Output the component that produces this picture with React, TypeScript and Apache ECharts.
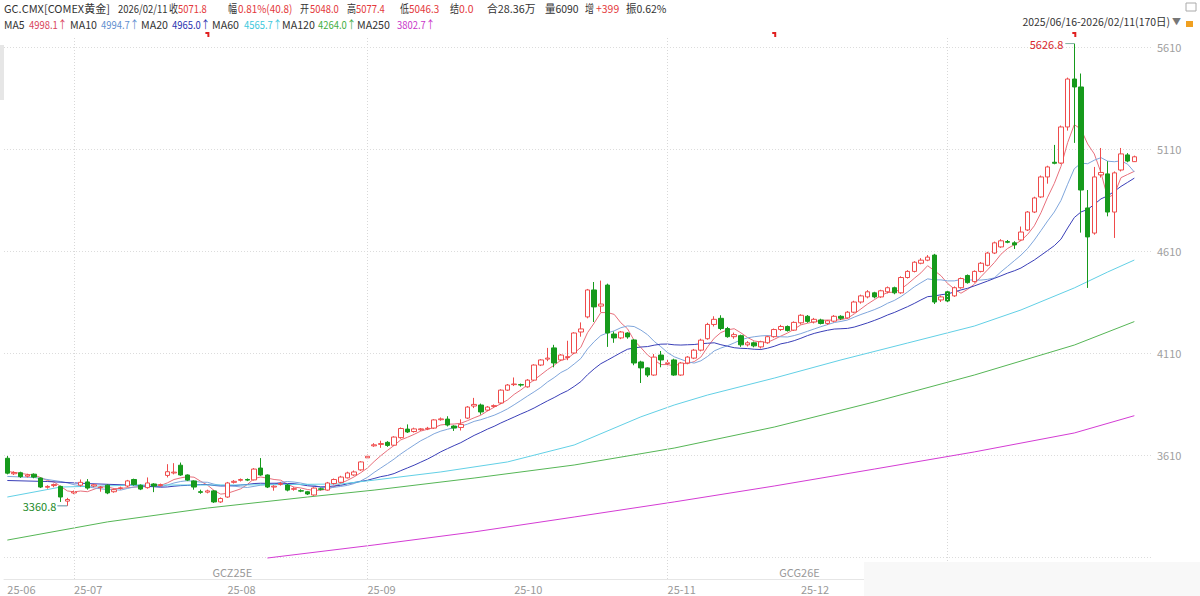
import React, { useEffect, useRef } from 'react';
import * as echarts from 'echarts';

// ---------- categories ----------
const FIRST_DAY = '2025-06-16';
const LAST_DAY = '2026-02-11';
const NO_TRADE = ['2025-06-19', '2025-12-25', '2026-01-01'];
const PAD_SLOTS = ['pad-1', 'pad-2'];
const MONTH_LABELS = ['25-06', '25-07', '25-08', '25-09', '25-10', '25-11', '25-12'];
const GRID_MONTHS = ['2025/07', '2025/09', '2025/11', '2026/01'];
const ROLL_DATES = ['2025/07/29', '2025/11/25', '2026/01/29'];
const ROLL_NAMES = ['GCZ25E', 'GCG26E', ''];

// ---------- candles: [open, close, low, high] ----------
const ohlc: number[][] = [
  [3594, 3521, 3515, 3605], [3518, 3524, 3512, 3530], [3523, 3504, 3498, 3528], [3506, 3512, 3500, 3518], [3516, 3502, 3496, 3520],
  [3497, 3453, 3448, 3500], [3452, 3456, 3445, 3462], [3460, 3465, 3452, 3470], [3456, 3404, 3380, 3460], [3384, 3392, 3360.8, 3400],
  [3424, 3430, 3418, 3436], [3462, 3476, 3455, 3490], [3478, 3448, 3440, 3492], [3458, 3464, 3452, 3468], [3450, 3453, 3430, 3458],
  [3462, 3424, 3418, 3466], [3430, 3440, 3425, 3445], [3446, 3449, 3440, 3455], [3458, 3483, 3452, 3488], [3490, 3465, 3460, 3494],
  [3462, 3443, 3438, 3466], [3450, 3473, 3445, 3500], [3468, 3458, 3428, 3472], [3460, 3465, 3455, 3470], [3510, 3528, 3500, 3565],
  [3522, 3526, 3515, 3570], [3560, 3512, 3508, 3573], [3512, 3487, 3482, 3515], [3483, 3453, 3440, 3486], [3430, 3427, 3420, 3440],
  [3428, 3434, 3422, 3440], [3434, 3380, 3375, 3438], [3380, 3397, 3375, 3402], [3404, 3473, 3400, 3478], [3476, 3481, 3470, 3487],
  [3486, 3490, 3480, 3495], [3490, 3487, 3482, 3495], [3488, 3541, 3485, 3546], [3546, 3512, 3508, 3595], [3512, 3453, 3448, 3515],
  [3453, 3457, 3435, 3462], [3466, 3470, 3460, 3478], [3463, 3438, 3432, 3468], [3442, 3445, 3435, 3452], [3435, 3433, 3428, 3442],
  [3430, 3419, 3414, 3434], [3414, 3448, 3410, 3452], [3444, 3442, 3436, 3450], [3438, 3473, 3435, 3478], [3470, 3490, 3465, 3495],
  [3476, 3502, 3472, 3508], [3498, 3522, 3495, 3528], [3512, 3527, 3508, 3534], [3537, 3576, 3532, 3580], [3596, 3604, 3590, 3612],
  [3655, 3660, 3650, 3668], [3662, 3666, 3645, 3680], [3672, 3657, 3650, 3678], [3658, 3698, 3655, 3702], [3695, 3740, 3690, 3745],
  [3737, 3723, 3718, 3760], [3725, 3738, 3720, 3744], [3734, 3738, 3728, 3742], [3738, 3741, 3732, 3748], [3742, 3782, 3738, 3786],
  [3783, 3787, 3778, 3794], [3786, 3757, 3750, 3800], [3752, 3742, 3728, 3756], [3745, 3760, 3730, 3785], [3791, 3845, 3786, 3850],
  [3850, 3858, 3840, 3890], [3855, 3821, 3808, 3862], [3830, 3845, 3825, 3850], [3848, 3852, 3842, 3858], [3865, 3928, 3860, 3932],
  [3928, 3953, 3924, 3958], [3955, 3958, 3948, 3990], [3955, 3953, 3945, 3960], [3944, 3977, 3940, 3982], [3977, 4051, 3972, 4055],
  [4051, 4076, 4046, 4080], [4080, 4085, 4070, 4135], [4135, 4061, 4040, 4150], [4076, 4100, 4070, 4105], [4088, 4092, 4075, 4170],
  [4110, 4208, 4105, 4212], [4213, 4228, 4190, 4260], [4287, 4419, 4280, 4424], [4419, 4336, 4262, 4458], [4340, 4350, 4310, 4465],
  [4443, 4208, 4140, 4450], [4203, 4184, 4160, 4215], [4184, 4213, 4178, 4218], [4208, 4189, 4180, 4212], [4174, 4061, 4050, 4178],
  [4066, 4037, 3963, 4072], [4037, 4002, 3992, 4040], [4002, 4090, 3998, 4105], [4100, 4076, 4040, 4120], [4058, 4062, 4045, 4080],
  [4076, 4002, 3998, 4082], [4002, 4061, 3998, 4066], [4061, 4090, 4055, 4095], [4085, 4124, 4080, 4130], [4124, 4173, 4118, 4180],
  [4180, 4250, 4175, 4258], [4250, 4275, 4240, 4290], [4280, 4230, 4222, 4295], [4230, 4190, 4185, 4238], [4190, 4200, 4180, 4210],
  [4195, 4150, 4140, 4200], [4150, 4160, 4142, 4168], [4160, 4145, 4138, 4166], [4140, 4165, 4132, 4170], [4160, 4190, 4155, 4195],
  [4190, 4225, 4185, 4230], [4225, 4240, 4218, 4248], [4240, 4220, 4215, 4245], [4222, 4260, 4218, 4265], [4258, 4295, 4250, 4300],
  [4290, 4265, 4258, 4296], [4262, 4275, 4255, 4282], [4272, 4255, 4250, 4278], [4255, 4268, 4248, 4272], [4266, 4290, 4260, 4296],
  [4290, 4280, 4272, 4295], [4282, 4310, 4278, 4316], [4310, 4360, 4305, 4366], [4360, 4390, 4352, 4396], [4385, 4410, 4378, 4418],
  [4405, 4385, 4378, 4410], [4385, 4415, 4380, 4420], [4410, 4430, 4402, 4436], [4430, 4405, 4398, 4435], [4405, 4480, 4400, 4486],
  [4480, 4510, 4475, 4516], [4510, 4555, 4505, 4560], [4550, 4565, 4545, 4575], [4565, 4580, 4560, 4590], [4590, 4360, 4350, 4596],
  [4370, 4385, 4360, 4392], [4410, 4365, 4360, 4415], [4390, 4430, 4385, 4436], [4430, 4475, 4425, 4480], [4490, 4455, 4450, 4495],
  [4460, 4510, 4455, 4515], [4510, 4550, 4505, 4556], [4540, 4600, 4535, 4606], [4600, 4650, 4595, 4656], [4630, 4660, 4625, 4668],
  [4656, 4653, 4648, 4664], [4650, 4640, 4620, 4658], [4664, 4703, 4660, 4730], [4713, 4801, 4708, 4806], [4801, 4870, 4796, 4876],
  [4875, 4973, 4870, 4980], [4973, 5022, 4940, 5028], [5045, 5040, 5035, 5130], [5041, 5218, 5036, 5225], [5218, 5453, 5200, 5460],
  [5453, 5414, 5140, 5626.8], [5414, 4909, 4700, 5480], [4821, 4679, 4429, 4909], [4698, 4973, 4690, 5022], [4983, 4995, 4970, 5115],
  [4988, 4801, 4780, 5050], [4801, 4993, 4674, 5000], [5007, 5086, 5000, 5115], [5081, 5051, 5045, 5090], [5048, 5071.8, 5046.3, 5077.4],
];

// ---------- moving averages ----------
const ma5Head: number[][] = [[0, 3530], [1, 3525], [2, 3520], [3, 3515]];
const ma10Head: number[][] = [[0, 3505], [4, 3500], [8, 3480]];
const ma20Head: number[][] = [[0, 3485], [6, 3480], [12, 3470], [18, 3463]];
const ma60Pts: number[][] = [
  [0, 3404], [8, 3453], [20, 3463], [35, 3463], [50, 3468], [55, 3487], [65, 3527], [75, 3576], [85, 3659], [95, 3797],
  [100, 3855], [105, 3904], [115, 3987], [125, 4076], [135, 4159], [145, 4242], [152, 4321], [160, 4429], [165, 4507], [169, 4565.7],
];
const ma120Pts: number[][] = [
  [0, 3193], [15, 3282], [30, 3350], [45, 3404], [55, 3438], [70, 3497], [85, 3561], [100, 3644], [115, 3747], [130, 3870],
  [145, 4002], [155, 4100], [160, 4149], [169, 4264.0],
];
const ma250Pts: number[][] = [
  [39, 3105], [55, 3169], [70, 3233], [85, 3306], [100, 3380], [115, 3458], [130, 3541], [145, 3625], [160, 3718], [169, 3802.7],
];

const UP = '#ef4b4b';
const DOWN = '#169a1c';
const FONT = '"Noto Sans CJK SC", "Noto Sans", sans-serif';

function tradingDays(): string[] {
  const out: string[] = [];
  const d = new Date(FIRST_DAY + 'T00:00:00Z');
  const end = new Date(LAST_DAY + 'T00:00:00Z');
  while (d <= end) {
    const wd = d.getUTCDay();
    const iso = d.toISOString().slice(0, 10);
    if (wd !== 0 && wd !== 6 && !NO_TRADE.includes(iso)) out.push(iso.replace(/-/g, '/'));
    d.setUTCDate(d.getUTCDate() + 1);
  }
  return out;
}

const days = tradingDays();
const cats = days.concat(PAD_SLOTS);
const closes = ohlc.map((r) => r[1]);

function maSeries(n: number, head: number[][]): any[] {
  const out: any[] = head.map(([i, v]) => [days[i], v]);
  for (let i = n - 1; i < closes.length; i++) {
    let s = 0;
    for (let k = i - n + 1; k <= i; k++) s += closes[k];
    out.push([days[i], +(s / n).toFixed(2)]);
  }
  return out;
}
const pts = (arr: number[][]) => arr.map(([i, v]) => [days[i], v]);

const monthLabelAt: Record<string, string> = {};
const monthFirst: Record<string, string> = {};
days.forEach((d, i) => {
  const ym = d.slice(0, 7);
  if (i === 0 || days[i - 1].slice(0, 7) !== ym) {
    monthFirst[ym] = d;
    const lab = d.slice(2, 4) + '-' + d.slice(5, 7);
    if (MONTH_LABELS.includes(lab)) monthLabelAt[d] = lab;
  }
});

const line = (name: string, data: any[], color: string) => ({
  name, type: 'line', data, xAxisIndex: 0, yAxisIndex: 0, symbol: 'none', showSymbol: false,
  silent: true, lineStyle: { width: 1, color }, z: 3,
});

const option: any = {
  animation: false,
  backgroundColor: '#ffffff',
  grid: [
    { left: 4, right: 49, top: 37, bottom: 17 },
    { left: 4, right: 49, top: 47, bottom: 39 },
  ],
  xAxis: [
    {
      type: 'category', gridIndex: 0, data: cats, boundaryGap: true,
      axisLine: { lineStyle: { color: '#e6e6e6' } },
      axisTick: { show: false },
      splitLine: { show: false },
      axisLabel: {
        interval: (_i: number, v: string) => monthLabelAt[v] !== undefined,
        formatter: (v: string) => monthLabelAt[v] || '',
        align: 'left', color: '#999', fontSize: 11, fontFamily: FONT, margin: 4,
      },
    },
    { type: 'value', gridIndex: 1, show: false, min: 0, max: 1 },
  ],
  yAxis: [
    { type: 'value', gridIndex: 0, min: 3002.2, max: 5659.0, show: false },
    {
      type: 'value', gridIndex: 1, position: 'right', min: 3110, max: 5610, interval: 500,
      axisLine: { show: false }, axisTick: { show: false },
      axisLabel: { color: '#a0a0a0', fontSize: 11, fontFamily: FONT, margin: 6, formatter: (v: number) => (v === 3110 ? '' : String(v)) },
      splitLine: { lineStyle: { color: '#dcdcdc', type: [1, 2], width: 1 } },
    },
  ],
  series: [
    {
      type: 'candlestick', xAxisIndex: 0, yAxisIndex: 0, data: ohlc, barWidth: 5, z: 4, silent: true,
      itemStyle: { color: '#ffffff', color0: DOWN, borderColor: UP, borderColor0: DOWN, borderColorDoji: UP, borderWidth: 1 },
      markLine: {
        silent: true, symbol: 'none', label: { show: false },
        lineStyle: { color: '#d8d8d8', type: [1, 2], width: 1 },
        data: GRID_MONTHS.map((m) => ({ xAxis: monthFirst[m] })),
      },
    },
    line('MA5', maSeries(5, ma5Head), '#e8707c'),
    line('MA10', maSeries(10, ma10Head), '#7fa6dc'),
    line('MA20', maSeries(20, ma20Head), '#3a3fb8'),
    line('MA60', pts(ma60Pts), '#62d0e6'),
    line('MA120', pts(ma120Pts), '#56b656'),
    line('MA250', pts(ma250Pts), '#d43cd4'),
  ],
};

const RED = '#e4393c';
const DARK = '#333333';
// [x, text, colour, horizontal scale]
const header1: [number, string, string, number][] = [
  [4, 'GC.CMX[COMEX黄金]', DARK, 1], [118, '2026/02/11', DARK, 0.86],
  [169, '收', DARK, 0.82], [178, '5071.8', RED, 0.86], [228, '幅', DARK, 0.82], [238, '0.81%(40.8)', RED, 0.9],
  [300, '开', DARK, 0.82], [310, '5048.0', RED, 0.86], [347, '高', DARK, 0.82], [356, '5077.4', RED, 0.86],
  [400, '低', DARK, 0.82], [409, '5046.3', RED, 0.9], [450, '结', DARK, 0.82], [459, '0.0', RED, 0.95],
  [487, '合28.36万', DARK, 0.98], [545, '量6090', DARK, 0.95], [585, '增', DARK, 0.82], [596, '+399', RED, 0.95], [626, '振0.62%', DARK, 0.95],
];
const header2: [number, string, string, number][] = [
  [4, 'MA5', DARK, 0.95], [29, '4998.1↑', '#d9455a', 0.86], [70, 'MA10', DARK, 0.97], [101, '4994.7↑', '#5f8fd0', 0.86],
  [141, 'MA20', DARK, 0.97], [172, '4965.0↑', '#2a33b0', 0.86], [212, 'MA60', DARK, 0.97], [244, '4565.7↑', '#3cc8dc', 0.86],
  [282, 'MA120', DARK, 0.97], [318, '4264.0↑', '#3fae3f', 0.86], [357, 'MA250', DARK, 0.97], [397, '3802.7↑', '#c936c9', 0.86],
];

function txt(x: number, y: number, text: string, fill: string, size = 11, align = 'left', sx = 1): any {
  return {
    type: 'text', x, y, z: 20, silent: true, scaleX: sx,
    style: { text, fill, font: `${size}px ${FONT}`, textAlign: align, textVerticalAlign: 'middle' },
  };
}

export default function App() {
  const ref = useRef<HTMLDivElement>(null);
  useEffect(() => {
    const chart = echarts.init(ref.current!, null, { renderer: 'svg' });
    chart.setOption(option);
    const px = (d: string, v: number) => chart.convertToPixel({ gridIndex: 0 }, [d, v]) as number[];

    const g: any[] = [];
    header1.forEach(([x, t, c, s]) => g.push(txt(x, 8, t, c, 11, 'left', s)));
    header2.forEach(([x, t, c, s]) => g.push(txt(x, 24, t, c, 11, 'left', s)));
    g.push(txt(1170, 21, '2025/06/16-2026/02/11(170日)', DARK, 11, 'right', 0.95));
    g.push(txt(1172, 21, '▼', '#777', 9, 'left'));
    g.push({ type: 'rect', shape: { x: 1186, y: 3, width: 10, height: 8 }, style: { fill: 'none', stroke: '#aaa', lineWidth: 1 }, z: 20 });
    g.push({ type: 'rect', shape: { x: 1186, y: 21, width: 7, height: 6 }, style: { fill: '#f0a020' }, z: 20 });
    g.push({ type: 'rect', shape: { x: 0, y: 45, width: 4, height: 55 }, style: { fill: '#e6e6e6' }, z: 20 });

    // high / low markers
    const hi = px(days[160], 5626.8);
    g.push(txt(hi[0] - 11, hi[1], '5626.8', '#d8262c', 11, 'right'));
    g.push({ type: 'line', shape: { x1: hi[0] - 9, y1: hi[1], x2: hi[0], y2: hi[1] }, style: { stroke: '#7fb0a0', lineWidth: 1 }, z: 20 });
    const lo = px(days[9], 3360.8);
    g.push(txt(lo[0] - 11, lo[1], '3360.8', '#1d8a2a', 11, 'right'));
    g.push({ type: 'line', shape: { x1: lo[0] - 10, y1: lo[1], x2: lo[0], y2: lo[1] }, style: { stroke: '#5a8fa0', lineWidth: 1 }, z: 20 });

    // contract roll markers
    ROLL_DATES.forEach((d, k) => {
      const p = px(d, 5610);
      g.push({ type: 'polyline', shape: { points: [[p[0] - 2, 33], [p[0] + 1, 33], [p[0] + 1, 37]] }, style: { stroke: '#e02020', lineWidth: 2, fill: null }, z: 20 });
      if (ROLL_NAMES[k]) g.push(txt(p[0] + 5, 572, ROLL_NAMES[k], '#999', 11));
    });

    g.push({ type: 'rect', shape: { x: 864, y: 562, width: 336, height: 34 }, style: { fill: '#f8f8f8' }, z: 30 });
    chart.setOption({ graphic: g });
    return () => chart.dispose();
  }, []);
  return <div ref={ref} style={{ position: 'fixed', left: 0, top: 0, width: 1200, height: 596, background: '#fff' }} />;
}
